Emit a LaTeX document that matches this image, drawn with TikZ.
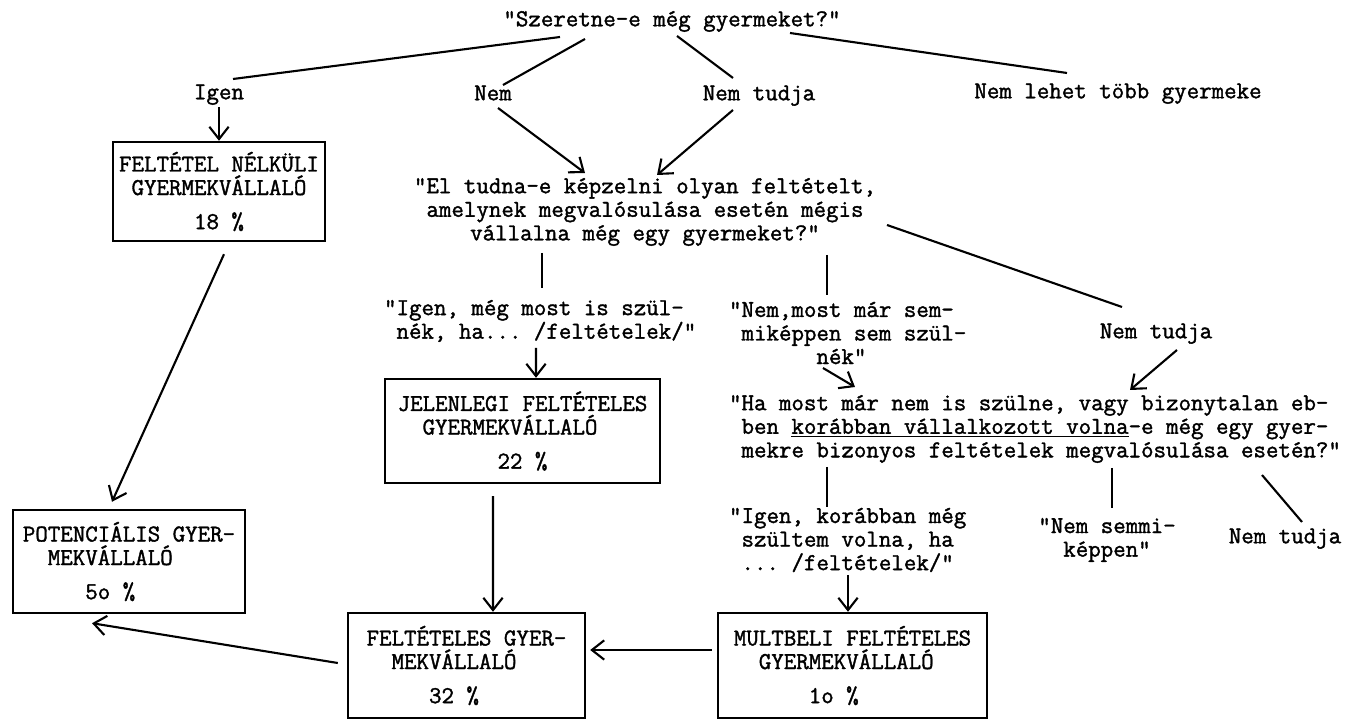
\documentclass[tikz,border=0pt]{standalone}
\usepackage{fontspec}
\newfontfamily\typew{Latin Modern Mono}[FakeBold=1.5]
\usetikzlibrary{arrows.meta, calc}

\begin{document}
\begin{tikzpicture}[x=0.02cm, y=-0.02cm, line width=1.2pt,
	every node/.style={font=\typew\fontsize{13.8}{13.4}\selectfont\frenchspacing, inner sep=0pt},
	word/.style={text height=9pt, text depth=3pt},
	box/.style={draw, line width=1.4pt, align=left},
	>={Straight Barb[length=7pt,width=11pt]}]
		\useasboundingbox (0,0) rectangle (1356,722);

		\node[word]		(szeretne)	at (672,21)	{"Szeretne-e még gyermeket?"};
		\node[word]		(igen)		at (219,94)	{Igen};
		\node[word]		(nem)		at (493,95)	{Nem};
		\node[word]		(nem-tudja)	at (759,95)	{Nem tudja};
		\node[word]		(nem-lehet)	at (1118,93)	{Nem lehet több gyermeke};
		\draw ($(szeretne)+(-112,16)$) to ($(igen)+(14,-15)$);
		\draw ($(szeretne)+(-87,18)$) to ($(nem)+(10,-10)$);
		\draw ($(szeretne)+(5,15)$) to ($(nem-tudja)+(-26,-17)$);
		\draw ($(szeretne)+(118,12)$) to ($(nem-lehet)+(-51,-20)$);

		\node[box, minimum width=4.24cm, minimum height=1.98cm] (feltetel-nelkuli) at (219,191.5)
			{FELTÉTEL NÉLKÜLI\\~GYERMEKVÁLLALÓ\\[6pt]~~~~~~18 \%};
		\draw[->] ($(igen)+(0,13)$) to (feltetel-nelkuli.north);

		\node[align=center]	(elkepzelni)	at (645,212)
			{"El tudna-e képzelni olyan feltételt,\\amelynek megvalósulása esetén mégis\\vállalna még egy gyermeket?"};
		\draw[->] ($(nem)+(5,13)$) to ($(elkepzelni)+(-60,-39)$);
		\draw[->] ($(nem-tudja)+(-26,15)$) to ($(elkepzelni)+(12,-37)$);

		\node[anchor=west, align=left] (igen-most) at (383,321)
			{"Igen, még most is szül-\\~nék, ha... /feltételek/"};
		\node[anchor=west, align=left] (nem-most) at (728,333)
			{"Nem,most már sem-\\~miképpen sem szül-\\~~~~~~~nék"};
		\node[word]		(nem-tudja-2)	at (1156,333)	{Nem tudja};
		\draw ($(elkepzelni)+(-103,41)$) to ($(igen-most.west)+(159,-33)$);
		\draw ($(elkepzelni)+(182,43)$) to ($(nem-most.west)+(99,-38)$);
		\draw ($(elkepzelni)+(242,13)$) to ($(nem-tudja-2)+(-34,-26)$);

		\node[box, minimum width=5.5cm, minimum height=2.08cm] (jelenlegi) at (522.5,431)
			{JELENLEGI FELTÉTELES\\~~GYERMEKVÁLLALÓ\\[6pt]~~~~~~~~22 \%};
		\draw[->] ($(igen-most.west)+(153,27)$) to ($(jelenlegi.north)+(13.5,0)$);

		\node[anchor=west, align=left] (ha-most) at (728,429)
			{"Ha most már nem is szülne, vagy bizonytalan eb-\\~ben \underline{korábban vállalkozott volna}-e még egy gyer-\\~mekre bizonyos feltételek megvalósulása esetén?"};
		\draw[->] ($(nem-most.west)+(95,35)$) to ($(ha-most.west)+(127,-42)$);
		\draw[->] ($(nem-tudja-2)+(21,17)$) to ($(ha-most.west)+(402,-39)$);

		\node[anchor=west, align=left] (igen-korabban) at (728,540)
			{"Igen, korábban még\\~szültem volna, ha\\~... /feltételek/"};
		\node[align=center]	(nem-semmi)	at (1107,540)	{"Nem semmi-\\képpen"};
		\node[word]		(nem-tudja-3)	at (1285,538)	{Nem tudja};
		\draw ($(ha-most.west)+(99,38)$) to ($(igen-korabban.west)+(99,-33)$);
		\draw ($(ha-most.west)+(384,39)$) to ($(nem-semmi)+(5,-32)$);
		\draw ($(ha-most.west)+(534,46)$) to ($(nem-tudja-3)+(17,-16)$);

		\node[box, minimum width=4.64cm, minimum height=2.06cm] (potencialis) at (129,561.5)
			{POTENCIÁLIS GYER-\\~~MEKVÁLLALÓ\\[6pt]~~~~~5o \%};
		\node[box, minimum width=4.74cm, minimum height=2.1cm] (felteteles) at (466.5,665.5)
			{FELTÉTELES GYER-\\~~MEKVÁLLALÓ\\[6pt]~~~~~32 \%};
		\node[box, minimum width=5.38cm, minimum height=2.1cm] (multbeli) at (852.5,665.5)
			{MULTBELI FELTÉTELES\\~~GYERMEKVÁLLALÓ\\[6pt]~~~~~~1o \%};

		\draw[->] ($(feltetel-nelkuli.south)+(5,12)$) to ($(potencialis.north)+(-17,-7)$);
		\draw[->] ($(jelenlegi.south)+(-29.5,12)$) to ($(felteteles.north)+(26.5,0)$);
		\draw[->] ($(igen-korabban.west)+(120,35)$) to ($(multbeli.north)+(-4.5,0)$);
		\draw[->] ($(multbeli.west)+(-5,-15.5)$) to ($(felteteles.east)+(4,-15.5)$);
		\draw[->] ($(felteteles.west)+(-9,-2.5)$) to ($(potencialis.south)+(-37,9)$);
\end{tikzpicture}
\end{document}
